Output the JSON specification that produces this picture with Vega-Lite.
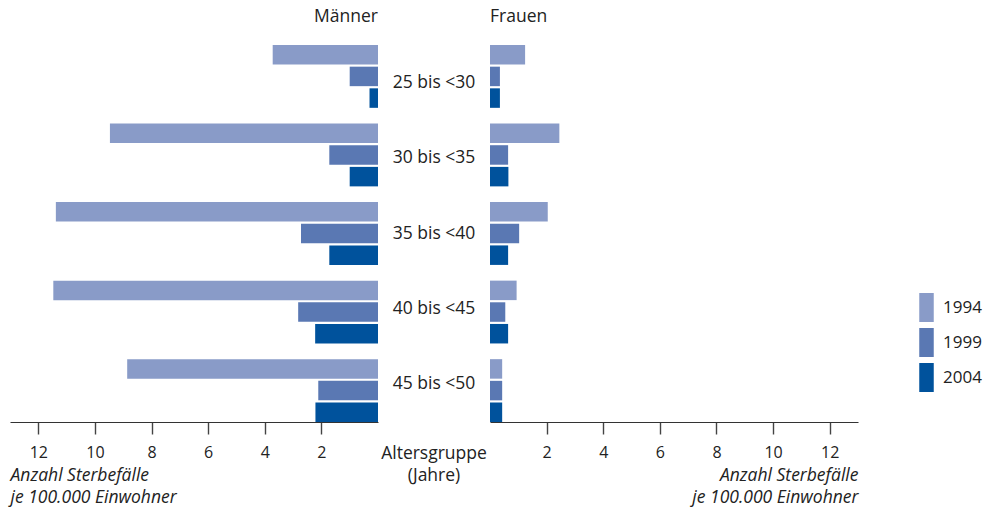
{
  "$schema": "https://vega.github.io/schema/vega-lite/v6.json",
  "padding": {"left": 10, "top": 7, "right": 5, "bottom": 5},
  "background": "white",
  "config": {
    "view": {"stroke": null},
    "font": "Open Sans",
    "axis": {
      "domainColor": "#333333",
      "tickColor": "#444444",
      "tickWidth": 1.4,
      "domainWidth": 1.2,
      "tickSize": 12,
      "labelColor": "#222222",
      "labelFontSize": 16,
      "labelPadding": 10,
      "grid": false,
      "titleColor": "#222222",
      "titleFontSize": 17.5,
      "titleFontStyle": "italic",
      "titleFontWeight": "normal",
      "titleLineHeight": 22,
      "titlePadding": 6
    },
    "title": {"fontSize": 17.5, "fontWeight": "normal", "color": "#222222", "offset": 20, "frame": "group"},
    "legend": {"labelFontSize": 17, "labelColor": "#222222", "padding": 0}
  },
  "data": {
    "values": [
      {"group": "25 bis <30", "year": "1994", "sex": "Männer", "value": 3.72},
      {"group": "25 bis <30", "year": "1999", "sex": "Männer", "value": 1.0},
      {"group": "25 bis <30", "year": "2004", "sex": "Männer", "value": 0.3},
      {"group": "30 bis <35", "year": "1994", "sex": "Männer", "value": 9.47},
      {"group": "30 bis <35", "year": "1999", "sex": "Männer", "value": 1.72},
      {"group": "30 bis <35", "year": "2004", "sex": "Männer", "value": 1.0},
      {"group": "35 bis <40", "year": "1994", "sex": "Männer", "value": 11.38},
      {"group": "35 bis <40", "year": "1999", "sex": "Männer", "value": 2.72},
      {"group": "35 bis <40", "year": "2004", "sex": "Männer", "value": 1.72},
      {"group": "40 bis <45", "year": "1994", "sex": "Männer", "value": 11.47},
      {"group": "40 bis <45", "year": "1999", "sex": "Männer", "value": 2.82},
      {"group": "40 bis <45", "year": "2004", "sex": "Männer", "value": 2.22},
      {"group": "45 bis <50", "year": "1994", "sex": "Männer", "value": 8.86},
      {"group": "45 bis <50", "year": "1999", "sex": "Männer", "value": 2.11},
      {"group": "45 bis <50", "year": "2004", "sex": "Männer", "value": 2.21},
      {"group": "25 bis <30", "year": "1994", "sex": "Frauen", "value": 1.24},
      {"group": "25 bis <30", "year": "1999", "sex": "Frauen", "value": 0.35},
      {"group": "25 bis <30", "year": "2004", "sex": "Frauen", "value": 0.35},
      {"group": "30 bis <35", "year": "1994", "sex": "Frauen", "value": 2.45},
      {"group": "30 bis <35", "year": "1999", "sex": "Frauen", "value": 0.64},
      {"group": "30 bis <35", "year": "2004", "sex": "Frauen", "value": 0.65},
      {"group": "35 bis <40", "year": "1994", "sex": "Frauen", "value": 2.04},
      {"group": "35 bis <40", "year": "1999", "sex": "Frauen", "value": 1.03},
      {"group": "35 bis <40", "year": "2004", "sex": "Frauen", "value": 0.64},
      {"group": "40 bis <45", "year": "1994", "sex": "Frauen", "value": 0.94},
      {"group": "40 bis <45", "year": "1999", "sex": "Frauen", "value": 0.54},
      {"group": "40 bis <45", "year": "2004", "sex": "Frauen", "value": 0.64},
      {"group": "45 bis <50", "year": "1994", "sex": "Frauen", "value": 0.43},
      {"group": "45 bis <50", "year": "1999", "sex": "Frauen", "value": 0.43},
      {"group": "45 bis <50", "year": "2004", "sex": "Frauen", "value": 0.43}
    ]
  },
  "spacing": 0,
  "resolve": {"scale": {"x": "independent", "y": "independent", "color": "shared"}},
  "hconcat": [
    {
      "width": 368,
      "height": 377,
      "title": {"text": "Männer", "anchor": "end"},
      "transform": [{"filter": "datum.sex === 'Männer'"}],
      "mark": {"type": "bar"},
      "encoding": {
        "y": {"field": "group", "type": "nominal", "axis": null,
              "scale": {"domain": ["25 bis <30", "30 bis <35", "35 bis <40", "40 bis <45", "45 bis <50"], "paddingInner": 0.2, "paddingOuter": 0}},
        "yOffset": {"field": "year", "type": "nominal", "scale": {"domain": ["1994", "1999", "2004"], "paddingInner": 0.1, "paddingOuter": 0}},
        "x": {"field": "value", "type": "quantitative",
              "scale": {"domain": [0, 13], "reverse": true, "nice": false},
              "axis": {"values": [2, 4, 6, 8, 10, 12], "title": ["Anzahl Sterbefälle", "je 100.000 Einwohner"], "titleAnchor": "end", "titleAlign": "left"}},
        "color": {"field": "year", "type": "nominal",
                  "scale": {"domain": ["1994", "1999", "2004"], "range": ["#899bc8", "#5a78b3", "#00529c"]},
                  "legend": {"title": null, "orient": "none", "legendX": 902, "legendY": 248,
                             "symbolType": "M-0.5,-1L0.5,-1L0.5,1L-0.5,1Z", "symbolSize": 841, "symbolStrokeWidth": 0,
                             "labelOffset": 2, "rowPadding": 6}}
      }
    },
    {
      "width": 112,
      "height": 377,
      "title": {"text": ["Altersgruppe", "(Jahre)"], "orient": "bottom", "anchor": "middle", "fontSize": 17.5, "lineHeight": 22, "offset": 23},
      "transform": [{"filter": "datum.sex === 'Männer' && datum.year === '1994'"}],
      "mark": {"type": "text", "fontSize": 17.5, "color": "#222222", "baseline": "middle", "dy": 0},
      "encoding": {
        "y": {"field": "group", "type": "nominal", "axis": null,
              "scale": {"domain": ["25 bis <30", "30 bis <35", "35 bis <40", "40 bis <45", "45 bis <50"], "paddingInner": 0.2, "paddingOuter": 0}},
        "text": {"field": "group"}
      }
    },
    {
      "width": 368,
      "height": 377,
      "title": {"text": "Frauen", "anchor": "start"},
      "transform": [{"filter": "datum.sex === 'Frauen'"}],
      "mark": {"type": "bar"},
      "encoding": {
        "y": {"field": "group", "type": "nominal", "axis": null,
              "scale": {"domain": ["25 bis <30", "30 bis <35", "35 bis <40", "40 bis <45", "45 bis <50"], "paddingInner": 0.2, "paddingOuter": 0}},
        "yOffset": {"field": "year", "type": "nominal", "scale": {"domain": ["1994", "1999", "2004"], "paddingInner": 0.1, "paddingOuter": 0}},
        "x": {"field": "value", "type": "quantitative",
              "scale": {"domain": [0, 13], "nice": false},
              "axis": {"values": [2, 4, 6, 8, 10, 12], "title": ["Anzahl Sterbefälle", "je 100.000 Einwohner"], "titleAnchor": "end", "titleAlign": "right"}},
        "color": {"field": "year", "type": "nominal",
                  "scale": {"domain": ["1994", "1999", "2004"], "range": ["#899bc8", "#5a78b3", "#00529c"]}}
      }
    }
  ]
}
